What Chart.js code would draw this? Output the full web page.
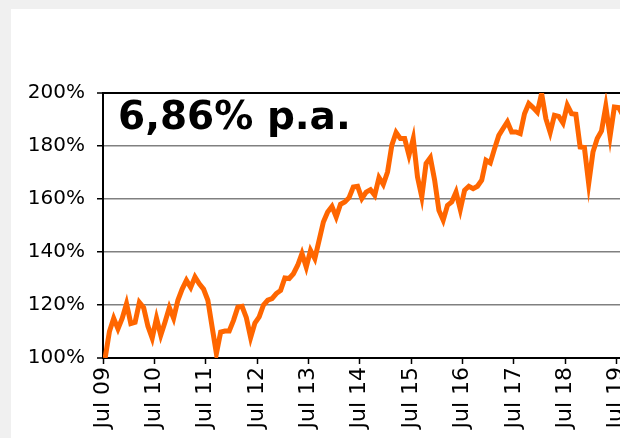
<!DOCTYPE html>
<html>
<head>
  <meta charset="utf-8">
  <title>6,86% p.a.</title>
  <script src="https://cdn.jsdelivr.net/npm/chart.js@4"></script>
  <style>
    body { margin: 0; background: #f0f0f0; overflow: hidden; }
    #panel { position: absolute; left: 11px; top: 9px; width: 609px; height: 429px; background: #fff; overflow: hidden; }
    canvas { display: block; }
  </style>
</head>
<body>
  <div id="panel"><canvas id="perfChart" width="650" height="429"></canvas></div>

  <script>
    const tickLabels = ['Jul 09', 'Jul 10', 'Jul 11', 'Jul 12', 'Jul 13', 'Jul 14', 'Jul 15', 'Jul 16', 'Jul 17', 'Jul 18', 'Jul 19'];
    const annualReturn = '6,86% p.a.';

    // monthly performance, indexed from Jul 09
    const perfValues = [
      100, 110, 115, 111, 115, 120.5, 113, 113.5, 121, 119,
      112, 107.5, 115, 108.6, 113.6, 119, 115, 121.8, 126, 129.3,
      126.6, 130.6, 128, 126, 121.8, 111.7, 101.7, 109.8, 110.2, 110.2,
      114.2, 119.2, 119.5, 115.2, 107.7, 113.2, 115.5, 120, 121.8, 122.4,
      124.3, 125.5, 130.2, 130, 131.8, 135, 139.4, 134.3, 140.6, 137.5,
      144.4, 151.3, 155.1, 157.2, 153.2, 158, 158.9, 160.5, 164.5, 164.8,
      160.2, 162.6, 163.5, 161.4, 168.1, 165.5, 170.2, 180.3, 185.1, 182.8,
      182.8, 176.5, 182.8, 168.3, 160.8, 173.4, 175.6, 167.1, 155.7, 152,
      157.6, 158.9, 162.6, 156, 163.3, 164.8, 163.9, 164.8, 167.1, 174.6,
      173.6, 179, 184, 186.6, 189.1, 185.3, 185.3, 184.7, 192.2, 196,
      194.5, 192.8, 199.8, 190.3, 185.1, 191.6, 191.2, 188.7, 195.4, 192.2,
      192, 179.6, 179.4, 165.8, 177.7, 182.8, 185.7, 195, 183.7, 194.7,
      194.5, 191.6
    ];

    const yTicks = { min: 100, max: 200, step: 20 };

    const returnLabel = {
      id: 'returnLabel',
      afterDatasetsDraw(chart) {
        const { ctx, chartArea } = chart;
        ctx.save();
        ctx.font = 'bold 39px "DejaVu Sans"';
        ctx.fillStyle = '#000';
        ctx.textBaseline = 'alphabetic';
        ctx.fillText(annualReturn, chartArea.left + 15, chartArea.top + 36);
        ctx.restore();
      }
    };

    const edge = v => v === yTicks.min || v === yTicks.max;

    new Chart(document.getElementById('perfChart'), {
      type: 'line',
      data: {
        datasets: [{
          data: perfValues.map((v, i) => ({ x: i + 0.5, y: v })),
          borderColor: '#ff6600',
          borderWidth: 5,
          pointRadius: 0,
          tension: 0
        }]
      },
      options: {
        responsive: false,
        devicePixelRatio: 1,
        animation: false,
        layout: { padding: { top: 84, left: 0, right: 0, bottom: 0 } },
        plugins: { legend: { display: false }, tooltip: { enabled: false } },
        scales: {
          x: {
            type: 'linear',
            min: 0,
            max: 130.4,
            afterFit: s => { s.height = 80; },
            border: { color: '#000', width: 2 },
            grid: { drawOnChartArea: false, drawTicks: true, tickLength: 6, tickColor: '#000', tickWidth: 1.5 },
            ticks: {
              stepSize: 12,
              includeBounds: false,
              autoSkip: false,
              minRotation: 90,
              maxRotation: 90,
              padding: 3,
              color: '#000',
              font: { family: 'DejaVu Sans', size: 22 },
              callback: v => tickLabels[v / 12] ?? ''
            }
          },
          y: {
            min: yTicks.min,
            max: yTicks.max,
            afterFit: s => { s.width = 92; },
            border: { color: '#000', width: 2 },
            grid: {
              color: c => edge(c.tick.value) ? '#000' : '#808080',
              lineWidth: c => edge(c.tick.value) ? 2 : 1.5,
              tickLength: 6,
              tickColor: '#000',
              tickWidth: 1.5
            },
            ticks: {
              stepSize: yTicks.step,
              padding: 12,
              color: '#000',
              font: { family: 'DejaVu Sans', size: 20 },
              callback: v => v + '%'
            }
          }
        }
      },
      plugins: [returnLabel]
    });
  </script>
</body>
</html>
